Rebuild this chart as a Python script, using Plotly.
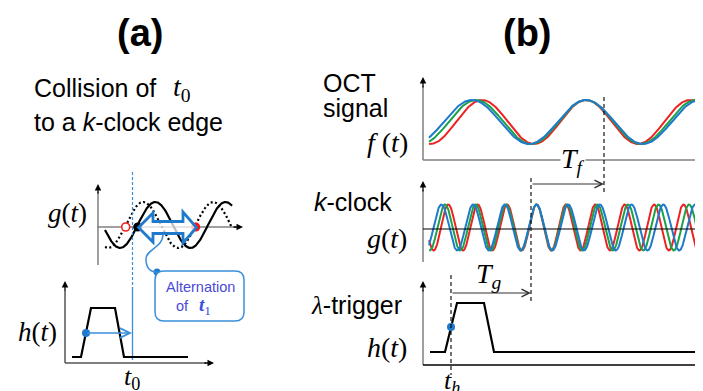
import numpy as np
import plotly.graph_objects as go

# page body has an 8px margin: figure is placed at (8,8); data coords = page pixels
OFF = 8
W, H = 703, 391
SANS = "Liberation Sans, Arial, sans-serif"
SERIF = "Liberation Serif, Times New Roman, serif"
BLUE = "#1f7acb"
LBLUE = "#3a8fd9"
RED = "#ee2222"
GREEN = "#1aa14a"
AXG = "#808080"

# ---------------- data ----------------
# panel (a): k-clock g(t) -- solid and dotted sine, pixel space
A_G_XRANGE = [105, 232]
A_G_CENTER, A_G_AMP = 225.0, 23.0
A_G_SOLID = dict(zero_up=137.7, period=70.3)
A_G_DOTTED = dict(zero_up=125.7, period=70.0)
A_MARK_X = [125.7, 137.7, 195.7]
A_MARK_Y = [227, 227, 227]

# panel (a): trigger h(t)
A_H_X = [72, 81, 91, 115, 124, 188]
A_H_Y = [357, 357, 308, 308, 357, 357]
A_H_DOT = (86, 333)

# panel (b): OCT signal f(t)
B_F_XRANGE = [429, 698]
B_F_CENTER, B_F_AMP, B_F_PEAK = 122.0, 22.0, 586.0
B_F_PERIODS = {"red": 104.0, "green": 110.0, "blue": 114.0}

# panel (b): k-clock g(t)
B_G_XRANGE = [429, 698]
B_G_CENTER, B_G_AMP, B_G_PEAK = 227.5, 23.0, 536.5
B_G_PERIODS = {"red": 29.4, "green": 30.5, "blue": 31.7}

# panel (b): lambda trigger h(t)
B_H_X = [430, 445, 457, 484, 494, 699]
B_H_Y = [352, 352, 303, 303, 352, 352]
B_H_DOT = (451, 327)

COLORS = {"red": RED, "green": GREEN, "blue": BLUE}

fig = go.Figure()


def line(xs, ys, color="black", width=1.5, dash=None):
    fig.add_trace(go.Scatter(x=xs, y=ys, mode="lines",
                             line=dict(color=color, width=width, dash=dash),
                             hoverinfo="skip", showlegend=False))


def arrow(x0, y0, x1, y1, color="black", head=2, width=1.3, size=1.0):
    fig.add_annotation(x=x1, y=y1, ax=x0, ay=y0, xref="x", yref="y",
                       axref="x", ayref="y", text="", showarrow=True,
                       arrowhead=head, arrowsize=size, arrowwidth=width,
                       arrowcolor=color, standoff=0, startstandoff=0)


def text(x, y, s, size=25, family=SANS, color="black", xanchor="center",
         yanchor="middle", bg=None):
    fig.add_annotation(x=x, y=y, xref="x", yref="y", text=s, showarrow=False,
                       font=dict(family=family, size=size, color=color),
                       xanchor=xanchor, yanchor=yanchor,
                       bgcolor=bg, borderpad=0)


# ---------------- panel (a) ----------------
line([98, 98], [265, 192], AXG, 1.5)
arrow(98, 195, 98, 184)
line([97, 236], [227, 227], AXG, 1.5)
arrow(232, 227, 243, 227)

xa = np.linspace(A_G_XRANGE[0], A_G_XRANGE[1], 300)
ya_s = A_G_CENTER - A_G_AMP * np.sin(2 * np.pi * (xa - A_G_SOLID["zero_up"]) / A_G_SOLID["period"])
ya_d = A_G_CENTER - A_G_AMP * np.sin(2 * np.pi * (xa - A_G_DOTTED["zero_up"]) / A_G_DOTTED["period"])
line(xa, ya_d, "black", 2.2, "2px,2.5px")
line(xa, ya_s, "black", 2.2)

line([132.5, 132.5], [172, 287], LBLUE, 1.2, "3px,2px")
line([132.5, 132.5], [287, 360], LBLUE, 1.3)

line([65, 65], [363, 290], "#555555", 1.5)
arrow(65, 292, 65, 281)
line([65, 206], [363, 363], "#555555", 1.5)
arrow(203, 363, 214, 363)
line(A_H_X, A_H_Y, "black", 2.2)
arrow(A_H_DOT[0], A_H_DOT[1], 132, A_H_DOT[1], LBLUE, 5, 1.5, 1.3)

fig.add_trace(go.Scatter(x=[A_MARK_X[0]], y=[A_MARK_Y[0]], mode="markers",
                         marker=dict(size=8, color="white", line=dict(color=RED, width=1.6)),
                         hoverinfo="skip", showlegend=False))
fig.add_trace(go.Scatter(x=[A_MARK_X[1]], y=[A_MARK_Y[1]], mode="markers",
                         marker=dict(size=9, color="black"), hoverinfo="skip", showlegend=False))
fig.add_trace(go.Scatter(x=[A_MARK_X[2]], y=[A_MARK_Y[2]], mode="markers",
                         marker=dict(size=9, color="#ff1010"), hoverinfo="skip", showlegend=False))
fig.add_trace(go.Scatter(x=[A_H_DOT[0]], y=[A_H_DOT[1]], mode="markers",
                         marker=dict(size=8, color=BLUE), hoverinfo="skip", showlegend=False))

# hollow double arrow
DA_X = [138.5, 153, 153, 183, 183, 196.5, 183, 183, 153, 153]
DA_Y = [227.5, 213, 221.5, 221.5, 212, 227.5, 243, 233.5, 233.5, 242]
da_path = "M " + " L ".join(f"{x},{y}" for x, y in zip(DA_X, DA_Y)) + " Z"
fig.add_shape(type="path", path=da_path, xref="x", yref="y",
              line=dict(color=BLUE, width=2.8), fillcolor="rgba(255,255,255,0.75)", layer="above")

# connector curve and callout box
fig.add_shape(type="path", xref="x", yref="y",
              path="M 163,234 C 163,248 146,249 146,259 C 146,268 150,272 157,272",
              line=dict(color=LBLUE, width=1.5), layer="above")
bx0, bx1, by0, by1, r = 155, 244, 271, 321, 9
box = (f"M {bx0+r},{by0} L {bx1-r},{by0} Q {bx1},{by0} {bx1},{by0+r} L {bx1},{by1-r} "
       f"Q {bx1},{by1} {bx1-r},{by1} L {bx0+r},{by1} Q {bx0},{by1} {bx0},{by1-r} "
       f"L {bx0},{by0+r} Q {bx0},{by0} {bx0+r},{by0} Z")
fig.add_shape(type="path", path=box, xref="x", yref="y",
              line=dict(color=LBLUE, width=1.5), fillcolor="white", layer="above")
fig.add_trace(go.Scatter(x=[157], y=[272], mode="markers",
                         marker=dict(size=7, color=BLUE), hoverinfo="skip", showlegend=False))

# ---------------- panel (b) ----------------
line([423, 423], [160, 86], AXG, 1.5)
arrow(423, 89, 423, 77)
line([423, 703], [160, 160], AXG, 1.5)
xb = np.linspace(B_F_XRANGE[0], B_F_XRANGE[1], 500)
for c in ["red", "green", "blue"]:
    yb = B_F_CENTER - B_F_AMP * np.cos(2 * np.pi * (xb - B_F_PEAK) / B_F_PERIODS[c])
    line(xb, yb, COLORS[c], 2.0)

line([423, 423], [262, 190], AXG, 1.5)
arrow(423, 193, 423, 181)
xg = np.linspace(B_G_XRANGE[0], B_G_XRANGE[1], 1200)
for c in ["red", "green", "blue"]:
    yg = B_G_CENTER - B_G_AMP * np.cos(2 * np.pi * (xg - B_G_PEAK) / B_G_PERIODS[c])
    line(xg, yg, COLORS[c], 2.0)
line([423, 703], [229, 229], "black", 1.2)

line([423, 423], [365, 290], AXG, 1.5)
arrow(423, 293, 423, 281)
line([423, 703], [365, 365], "black", 1.3)
line(B_H_X, B_H_Y, "black", 2.2)
fig.add_trace(go.Scatter(x=[B_H_DOT[0]], y=[B_H_DOT[1]], mode="markers",
                         marker=dict(size=8, color=BLUE), hoverinfo="skip", showlegend=False))

line([604, 604], [97, 193], "black", 1.1, "4px,3px")
line([531, 531], [178, 302], "black", 1.1, "4px,3px")
line([451, 451], [275, 375], "black", 1.1, "4px,3px")
arrow(531, 184, 604, 184, "#333333", 5, 1.1, 1.4)
arrow(451, 293, 531, 293, "#333333", 5, 1.1, 1.4)

# ---------------- text ----------------
text(140, 33, "<b>(a)</b>", 38)
text(527, 33, "<b>(b)</b>", 38)
text(33, 88, "Collision of", 25, xanchor="left")
text(172, 88, "<i>t</i><sub>0</sub>", 28, SERIF, xanchor="left")
text(33, 122, "to a <i>k</i>-clock edge", 25, xanchor="left")
text(88, 213, "<i>g</i>(<i>t</i>)", 27, SERIF, xanchor="right")
text(58, 332, "<i>h</i>(<i>t</i>)", 27, SERIF, xanchor="right")
text(132, 378, "<i>t</i><sub>0</sub>", 26, SERIF)
text(200, 287, "Alternation", 14.5, color="#4a4ad6")
text(182, 306, "of", 14.5, color="#4a4ad6")
text(205, 306, "<b><i>t</i></b><sub>1</sub>", 19, SERIF, color="#3a4be0")

text(322, 83, "OCT", 25, xanchor="left")
text(322, 108, "signal", 25, xanchor="left")
text(409, 142, "<i>f</i> (<i>t</i>)", 28, SERIF, xanchor="right")
text(573, 160, "<i>T</i><sub><i>f</i></sub>", 28, SERIF, bg="white")
text(313, 202, "<i>k</i>-clock", 25, xanchor="left")
text(408, 238, "<i>g</i>(<i>t</i>)", 28, SERIF, xanchor="right")
text(489, 275, "<i>T</i><sub><i>g</i></sub>", 28, SERIF)
text(310, 305, '<span style="font-family:Liberation Serif"><i>λ</i></span>-trigger', 25, xanchor="left")
text(408, 347, "<i>h</i>(<i>t</i>)", 28, SERIF, xanchor="right")
text(452, 382, "<i>t</i><sub><i>h</i></sub>", 26, SERIF)

fig.update_layout(width=W - OFF, height=H - OFF, margin=dict(l=0, r=0, t=0, b=0),
                  paper_bgcolor="white", plot_bgcolor="white", showlegend=False,
                  xaxis=dict(range=[OFF, W], visible=False, fixedrange=True),
                  yaxis=dict(range=[H, OFF], visible=False, fixedrange=True))
fig.write_html("out.html")
